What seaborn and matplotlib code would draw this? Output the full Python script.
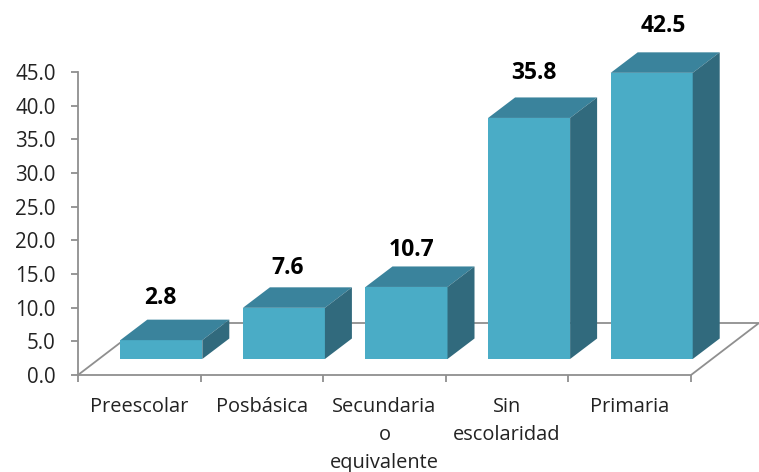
import matplotlib
matplotlib.use("Agg")
import matplotlib.pyplot as plt
import pandas as pd
import seaborn as sns
from matplotlib.patches import Polygon

categories = ["Preescolar", "Posbásica", "Secundaria\no\nequivalente", "Sin\nescolaridad", "Primaria"]
values = [2.8, 7.6, 10.7, 35.8, 42.5]
value_labels = ["2.8", "7.6", "10.7", "35.8", "42.5"]
y_ticks = [0, 5, 10, 15, 20, 25, 30, 35, 40, 45]

# label placement relative to each bar, in pixels
label_dx = [-1, 4, 5, 5, 12]
label_gap = [42, 40, 37, 45, 47]

front = "#4AACC6"
top = "#3A839C"
side = "#316A7D"
grey = "#8F8F8F"
ink = "#222222"

W, H = 759, 472
sns.set_theme(style="white")
plt.rcParams["font.family"] = ["Open Sans", "DejaVu Sans"]

fig = plt.figure(figsize=(W / 100, H / 100), dpi=100)
ax = fig.add_axes([78 / W, 1 - 375 / H, 613 / W, 303 / H])

df = pd.DataFrame({"nivel": categories, "pct": values})
sns.barplot(data=df, x="nivel", y="pct", color=front, saturation=1, width=0.669, linewidth=0, ax=ax)

ax.set_xlim(-0.5, 4.5)
ax.set_ylim(0, 45)
ax.set_xlabel("")
ax.set_ylabel("")

# pixel sizes of the fake 3d, converted to data units
px_x = 5 / 613
px_y = 45 / 303
shift_x, shift_y = 22 * px_x, 16 * px_y
depth_x, depth_y = 27 * px_x, 20.5 * px_y

# floor
floor = [(-0.5, 0), (68 * px_x - 0.5, 52 * px_y), (68 * px_x + 4.5, 52 * px_y), (4.5, 0)]
ax.add_patch(Polygon(floor, closed=False, fill=False, edgecolor=grey, lw=1.3, clip_on=False, zorder=1))

for bar, lab, dx, gap in zip(ax.patches[:5], value_labels, label_dx, label_gap):
    bar.set_x(bar.get_x() + shift_x)
    bar.set_y(bar.get_y() + shift_y)
    bar.set_clip_on(False)
    bar.set_zorder(3)
    x0, x1 = bar.get_x(), bar.get_x() + bar.get_width()
    y0, y1 = bar.get_y(), bar.get_y() + bar.get_height()
    ax.add_patch(Polygon([(x0, y1), (x1, y1), (x1 + depth_x, y1 + depth_y), (x0 + depth_x, y1 + depth_y)],
                         facecolor=top, edgecolor="none", clip_on=False, zorder=3))
    ax.add_patch(Polygon([(x1, y0), (x1, y1), (x1 + depth_x, y1 + depth_y), (x1 + depth_x, y0 + depth_y)],
                         facecolor=side, edgecolor="none", clip_on=False, zorder=3))
    ax.text((x0 + x1) / 2 + dx * px_x, y1 + gap * px_y, lab, ha="center", va="center", fontsize=16.5,
            fontweight="bold", color="black", clip_on=False)

sns.despine(ax=ax, top=True, right=True)
for s in ["left", "bottom"]:
    ax.spines[s].set_color(grey)
    ax.spines[s].set_linewidth(1.3)

ax.set_yticks(y_ticks)
ax.set_yticklabels([f"{v:.1f}" for v in y_ticks], fontsize=14.8)
ax.set_xticks(range(5))
ax.set_xticklabels(categories, fontsize=14.4, linespacing=1.56)
ax.set_xticks([i - 0.5 for i in range(6)], minor=True)
ax.tick_params(axis="x", which="major", length=0, pad=15.5, labelcolor=ink)
ax.tick_params(axis="x", which="minor", length=5, color=grey, bottom=True, width=1.3)
ax.tick_params(axis="y", length=5, color=grey, left=True, width=1.3, pad=11, labelcolor=ink)

fig.savefig("out.png", dpi=100)
